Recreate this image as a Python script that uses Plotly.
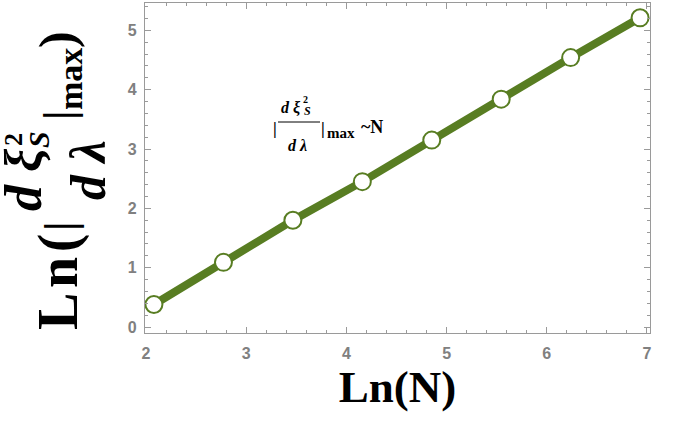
import plotly.graph_objects as go

ln_n = [2.079, 2.773, 3.466, 4.159, 4.852, 5.545, 6.238, 6.931]
ln_deriv = [0.38, 1.09, 1.80, 2.45, 3.15, 3.84, 4.54, 5.21]
x_ticks = [2, 3, 4, 5, 6, 7]
y_ticks = [0, 1, 2, 3, 4, 5]

GREEN = "#587d22"
GRAY = "#808080"
AX = "#9a9a9a"
W, H = 685, 423
L, R, T, B = 145, 35, 3, 90
PW, PH = W - L - R, H - T - B

def px(x):
    return (x - L) / PW

def py(y):
    return (H - B - y) / PH

fig = go.Figure()
fig.add_trace(go.Scatter(
    x=ln_n, y=ln_deriv, mode="lines+markers",
    line=dict(color=GREEN, width=8),
    marker=dict(size=17, color="white", line=dict(color=GREEN, width=2)),
    showlegend=False, cliponaxis=False, hoverinfo="skip",
))

axis_common = dict(
    showline=True, linecolor=AX, linewidth=1.2, mirror="allticks",
    ticks="inside", ticklen=6, tickcolor=AX, tickwidth=1,
    showgrid=False, zeroline=False, automargin=False,
    tickfont=dict(family="Liberation Sans", size=16, color=GRAY, weight="bold"),
    minor=dict(ticks="inside", ticklen=3, tickcolor=AX, dtick=0.2, showgrid=False),
)

fig.update_xaxes(range=[1.99, 7.03], tickvals=x_ticks, ticklabelstandoff=6, **axis_common,
                 title=dict(text="Ln(N)", font=dict(family="Liberation Serif", size=45, color="black", weight="bold"),
                            standoff=4))
fig.update_yaxes(range=[-0.1, 5.46], tickvals=y_ticks, ticklabelstandoff=4, **axis_common)

serif = "Liberation Serif"
anns = []

def add(text, x, y, size, angle=0, xanchor="center"):
    anns.append(dict(text=text, x=px(x), y=py(y), textangle=angle, xanchor=xanchor,
                     font=dict(family=serif, size=size, color="black")))

# rotated y-axis title pieces
add("<b>L\u200an\u200a(</b>", 58, 282, 56, -90)
add("<b>|</b>", 60, 226, 44, -90)
add("<b><i>d ξ</i></b>", 23, 180, 52, -90)
add("<b>2</b>", 13, 140, 26, -90)
add("<b><i>S</i></b>", 38, 140, 30, -90)
add("<b><i>d λ</i></b>", 88, 170, 50, -90)
add("<b>|</b>", 60, 115, 44, -90)
add("<b>max</b>", 70, 79, 34, -90)
add("<b>)</b>", 57, 40, 50, -90)

# inner annotation
add("<b>|</b>", 275, 128, 17)
add("<b><i>d ξ</i></b>", 291, 107, 16)
add("<b>2</b>", 305, 99, 10)
add("<b><i>S</i></b>", 307, 111, 12)
add("<b><i>d λ</i></b>", 297, 145, 16)
add("<b>|</b>", 323, 128, 17)
add("<b>max</b>", 325, 133, 15, 0, "left")
add("<b>~N</b>", 359, 127, 18, 0, "left")

for a in anns:
    a.update(xref="paper", yref="paper", showarrow=False, yanchor="middle")
fig.update_layout(annotations=anns)
fig.add_shape(type="line", xref="paper", yref="paper", x0=px(278), x1=px(320), y0=py(122), y1=py(122),
              line=dict(color="black", width=1))

fig.update_layout(
    width=W, height=H, margin=dict(l=L, r=R, t=T, b=B),
    plot_bgcolor="white", paper_bgcolor="white", hovermode=False,
)
fig.write_html("out.html", config={"displayModeBar": False},
               post_script="document.body.style.margin='0';")
